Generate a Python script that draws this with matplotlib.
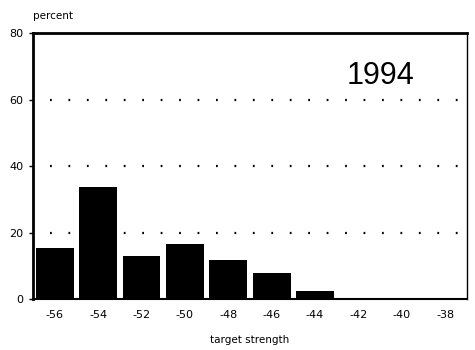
import matplotlib.pyplot as plt
import numpy as np

plt.rcParams['axes.unicode_minus'] = False

# target strength bins (dB) and percent of fish in each
ts_bins = [-56, -54, -52, -50, -48, -46, -44, -42, -40, -38]
pct = [15.4, 33.8, 13.0, 16.4, 11.6, 7.7, 2.5, 0.3, 0.3, 0.0]
yticks = [0, 20, 40, 60, 80]
year = '1994'

fig = plt.figure(figsize=(4.75, 3.5), dpi=100)
ax = fig.add_axes([0.0695, 0.1457, 0.9135, 0.76])

ax.bar(ts_bins, pct, width=1.75, color='black', zorder=3)

# dotted gridlines
for y in yticks[1:-1]:
    ax.axhline(y, xmin=0.04, xmax=1.0, color='black', lw=1.6,
               linestyle=(0, (0.8, 7.5)), zorder=1)

ax.set_xlim(-57, -37)
ax.set_ylim(0, 80)
ax.set_xticks(ts_bins)
ax.set_yticks(yticks)
ax.tick_params(axis='x', length=0, pad=8, labelsize=8)
ax.tick_params(axis='y', length=3, width=1, pad=4, labelsize=8)

ax.spines['top'].set_linewidth(2)
ax.spines['left'].set_linewidth(2)
ax.spines['bottom'].set_linewidth(1.5)
ax.spines['right'].set_linewidth(1)

ax.text(0.88, 0.838, year, transform=ax.transAxes, fontsize=22,
        ha='right', va='center', family='Liberation Sans')
fig.text(0.07, 0.955, 'percent', fontsize=7.5, ha='left', va='center')
ax.set_xlabel('target strength', fontsize=7.5, labelpad=11)

fig.savefig('out.png')
